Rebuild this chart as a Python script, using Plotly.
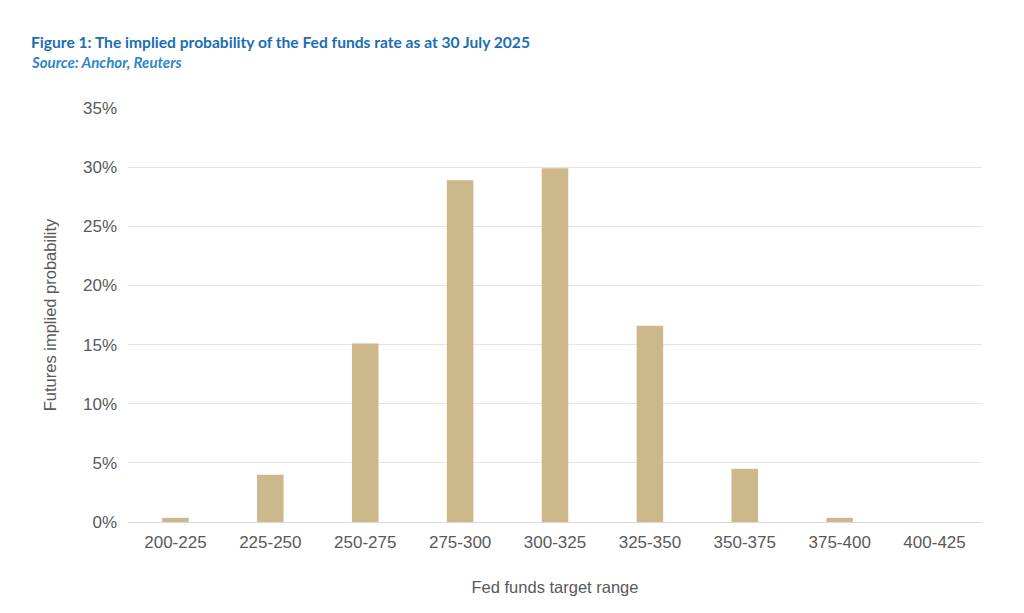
import plotly.graph_objects as go

categories = ["200-225", "225-250", "250-275", "275-300", "300-325",
              "325-350", "350-375", "375-400", "400-425"]
probabilities = [0.35, 4.0, 15.1, 28.9, 29.9, 16.6, 4.5, 0.35, 0.0]
y_ticks = [0, 5, 10, 15, 20, 25, 30, 35]
y_tick_labels = [f"{v}%" for v in y_ticks]

fig = go.Figure()
fig.add_trace(go.Bar(x=categories, y=probabilities, marker_color="#cdb88c",
                     marker_line_width=0))

fig.update_layout(
    width=1024, height=613,
    paper_bgcolor="white", plot_bgcolor="white",
    margin=dict(l=120, r=50, t=100, b=99),
    bargap=0.72,
    showlegend=False,
    font=dict(family="Liberation Sans, Arial, sans-serif", color="#595959", size=17),
)
fig.update_xaxes(
    showgrid=False, showline=False, ticks="", ticklabelstandoff=8,
    title=dict(text="Fed funds target range", font=dict(size=16.5, color="#595959"), standoff=30),
    tickfont=dict(size=17, color="#595959"),
)
fig.update_yaxes(
    range=[0, 35], tickvals=y_ticks, ticktext=y_tick_labels,
    showgrid=True, gridcolor="#e4e4e4", gridwidth=1, zeroline=True,
    zerolinecolor="#d9d9d9", zerolinewidth=1, ticks="", ticklabelstandoff=10,
    title=dict(text="Futures implied probability", font=dict(size=16.5, color="#595959"), standoff=22),
    tickfont=dict(size=17, color="#595959"),
)
fig.add_annotation(text="<b>Figure 1: The implied probability of the Fed funds rate as at 30 July 2025</b>",
                   xref="paper", yref="paper", x=-99/854, y=1 + (108-42)/414, xanchor="left", yanchor="middle",
                   showarrow=False, font=dict(family="Lato, sans-serif", size=15.6, color="#1b6db3"))
fig.add_annotation(text="<b><i>Source: Anchor, Reuters</i></b>",
                   xref="paper", yref="paper", x=-99/854, y=1 + (108-62)/414, xanchor="left", yanchor="middle",
                   showarrow=False, font=dict(family="Lato, sans-serif", size=15, color="#2e86c8"))

fig.write_html("out.html")
